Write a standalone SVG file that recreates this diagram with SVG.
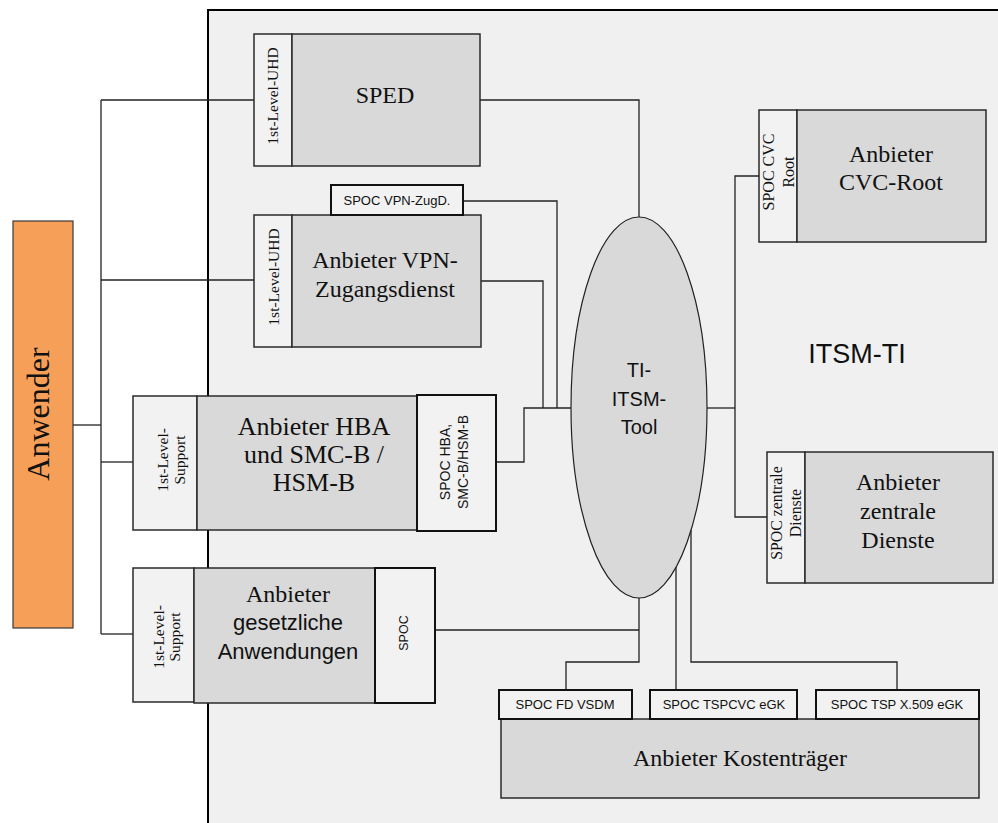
<svg xmlns="http://www.w3.org/2000/svg" width="998" height="823" viewBox="0 0 998 823">
<style>
.serif{font-family:"Liberation Serif","Times New Roman",serif;fill:#111}
.sans{font-family:"Liberation Sans",Arial,sans-serif;fill:#111}
.main{fill:#d9d9d9;stroke:#2a2a2a;stroke-width:1.5}
.side{fill:#f2f2f2;stroke:#2a2a2a;stroke-width:1.5}
.spoc{fill:#f2f2f2;stroke:#111;stroke-width:2}
.conn{fill:none;stroke:#222;stroke-width:1.3}
.big{font-size:24px}
.vt{font-size:15.5px}
.st{font-size:13px}
</style>
<rect x="0" y="0" width="998" height="823" fill="#ffffff"/>
<g id="frame">
<rect x="208" y="10" width="810" height="840" fill="#f0f0f0" stroke="#000" stroke-width="2"/>
<text class="sans" x="857" y="363" font-size="27" text-anchor="middle">ITSM-TI</text>
</g>
<g id="connectors">
<path class="conn" d="M101,100 V634"/>
<path class="conn" d="M73,425 H101" stroke-width="2"/>
<path class="conn" d="M101,100 H254"/>
<path class="conn" d="M101,280 H254"/>
<path class="conn" d="M101,462 H133"/>
<path class="conn" d="M101,634 H133"/>
<path class="conn" d="M480,100 H639 V217"/>
<path class="conn" d="M463,201 H557 V408"/>
<path class="conn" d="M481,281 H543 V408"/>
<path class="conn" d="M496,462 H524 V408 H571"/>
<path class="conn" d="M707,408 H735"/>
<path class="conn" d="M759,176 H735 V517 H767"/>
<path class="conn" d="M435,630 H639"/>
<path class="conn" d="M639,598 V662 H566 V690"/>
<path class="conn" d="M676,567 V690"/>
<path class="conn" d="M691,530 V662 H897 V690"/>
</g>
<g id="anwender">
<rect x="13" y="221" width="60" height="407" fill="#f59f58" stroke="#3a3a3a" stroke-width="1.2"/>
<text class="serif" transform="translate(49,414) rotate(-90)" font-size="32" text-anchor="middle">Anwender</text>
</g>
<g id="sped">
<rect class="side" x="254" y="34" width="38" height="132"/>
<rect class="main" x="292" y="34" width="188" height="132"/>
<text class="serif vt" transform="translate(278,96) rotate(-90)" text-anchor="middle">1st-Level-UHD</text>
<text class="serif big" x="385" y="103" text-anchor="middle">SPED</text>
</g>
<g id="vpn">
<rect class="side" x="254" y="215" width="38" height="132"/>
<rect class="main" x="292" y="215" width="189" height="132"/>
<rect class="spoc" x="331" y="185" width="132" height="30"/>
<text class="sans st" x="397" y="205" text-anchor="middle">SPOC VPN-ZugD.</text>
<text class="serif vt" transform="translate(279,277) rotate(-90)" text-anchor="middle">1st-Level-UHD</text>
<text class="serif big" x="385" y="268" text-anchor="middle">Anbieter VPN-</text>
<text class="serif big" x="385" y="297" text-anchor="middle">Zugangsdienst</text>
</g>
<g id="hba">
<rect class="side" x="133" y="396" width="64" height="134"/>
<rect class="main" x="197" y="396" width="220" height="134"/>
<rect class="spoc" x="417" y="395" width="79" height="136"/>
<text class="serif vt" transform="translate(168,460) rotate(-90)" text-anchor="middle">1st-Level-</text>
<text class="serif vt" transform="translate(185,460) rotate(-90)" text-anchor="middle">Support</text>
<text class="serif" x="314" y="435" font-size="26" text-anchor="middle">Anbieter HBA</text>
<text class="serif" x="314" y="463" font-size="26" text-anchor="middle">und SMC-B /</text>
<text class="serif" x="314" y="491" font-size="26" text-anchor="middle">HSM-B</text>
<text class="sans" transform="translate(450,462) rotate(-90)" font-size="14" text-anchor="middle">SPOC HBA,</text>
<text class="sans" transform="translate(468,462) rotate(-90)" font-size="14" text-anchor="middle">SMC-B/HSM-B</text>
</g>
<g id="gesetzlich">
<rect class="side" x="133" y="568" width="61" height="134"/>
<rect class="main" x="194" y="568" width="181" height="135"/>
<rect class="spoc" x="375" y="568" width="60" height="135"/>
<text class="serif vt" transform="translate(164,637) rotate(-90)" font-size="15" text-anchor="middle">1st-Level-</text>
<text class="serif vt" transform="translate(180,637) rotate(-90)" font-size="15" text-anchor="middle">Support</text>
<text class="serif big" x="288" y="602" text-anchor="middle">Anbieter</text>
<text class="sans" x="288" y="630" font-size="22" text-anchor="middle">gesetzliche</text>
<text class="sans" x="288" y="659" font-size="22" text-anchor="middle">Anwendungen</text>
<text class="sans" transform="translate(408,633) rotate(-90)" font-size="12.5" text-anchor="middle">SPOC</text>
</g>
<g id="itsm-tool">
<ellipse cx="639" cy="407.5" rx="68" ry="190.5" fill="#d9d9d9" stroke="#222" stroke-width="1.2"/>
<text class="sans" x="639" y="377" font-size="20" text-anchor="middle">TI-</text>
<text class="sans" x="639" y="406" font-size="20" text-anchor="middle">ITSM-</text>
<text class="sans" x="639" y="434" font-size="20" text-anchor="middle">Tool</text>
</g>
<g id="cvc-root">
<rect class="side" x="759" y="110" width="38" height="132"/>
<rect class="main" x="797" y="110" width="189" height="132"/>
<text class="serif" transform="translate(774,172) rotate(-90)" font-size="16" text-anchor="middle">SPOC CVC</text>
<text class="serif" transform="translate(794,172) rotate(-90)" font-size="16" text-anchor="middle">Root</text>
<text class="serif big" x="891" y="162" text-anchor="middle">Anbieter</text>
<text class="serif big" x="891" y="190" text-anchor="middle">CVC-Root</text>
</g>
<g id="zentrale-dienste">
<rect class="side" x="767" y="452" width="38" height="131"/>
<rect class="main" x="805" y="452" width="188" height="131"/>
<text class="serif" transform="translate(782,513) rotate(-90)" font-size="15.8" text-anchor="middle">SPOC zentrale</text>
<text class="serif" transform="translate(801,513) rotate(-90)" font-size="15.8" text-anchor="middle">Dienste</text>
<text class="serif big" x="898" y="490" text-anchor="middle">Anbieter</text>
<text class="serif big" x="898" y="519" text-anchor="middle">zentrale</text>
<text class="serif big" x="898" y="548" text-anchor="middle">Dienste</text>
</g>
<g id="kostentraeger">
<rect class="main" x="501" y="719" width="478" height="79" stroke="#111" stroke-width="2"/>
<rect class="spoc" x="499" y="690" width="133" height="29"/>
<rect class="spoc" x="650" y="690" width="147" height="29"/>
<rect class="spoc" x="816" y="690" width="163" height="29"/>
<text class="sans st" x="565" y="709" text-anchor="middle">SPOC FD VSDM</text>
<text class="sans st" x="724" y="709" text-anchor="middle">SPOC TSPCVC eGK</text>
<text class="sans st" x="897" y="709" text-anchor="middle">SPOC TSP X.509 eGK</text>
<text class="serif big" x="740" y="766" text-anchor="middle">Anbieter Kostenträger</text>
</g>
</svg>
